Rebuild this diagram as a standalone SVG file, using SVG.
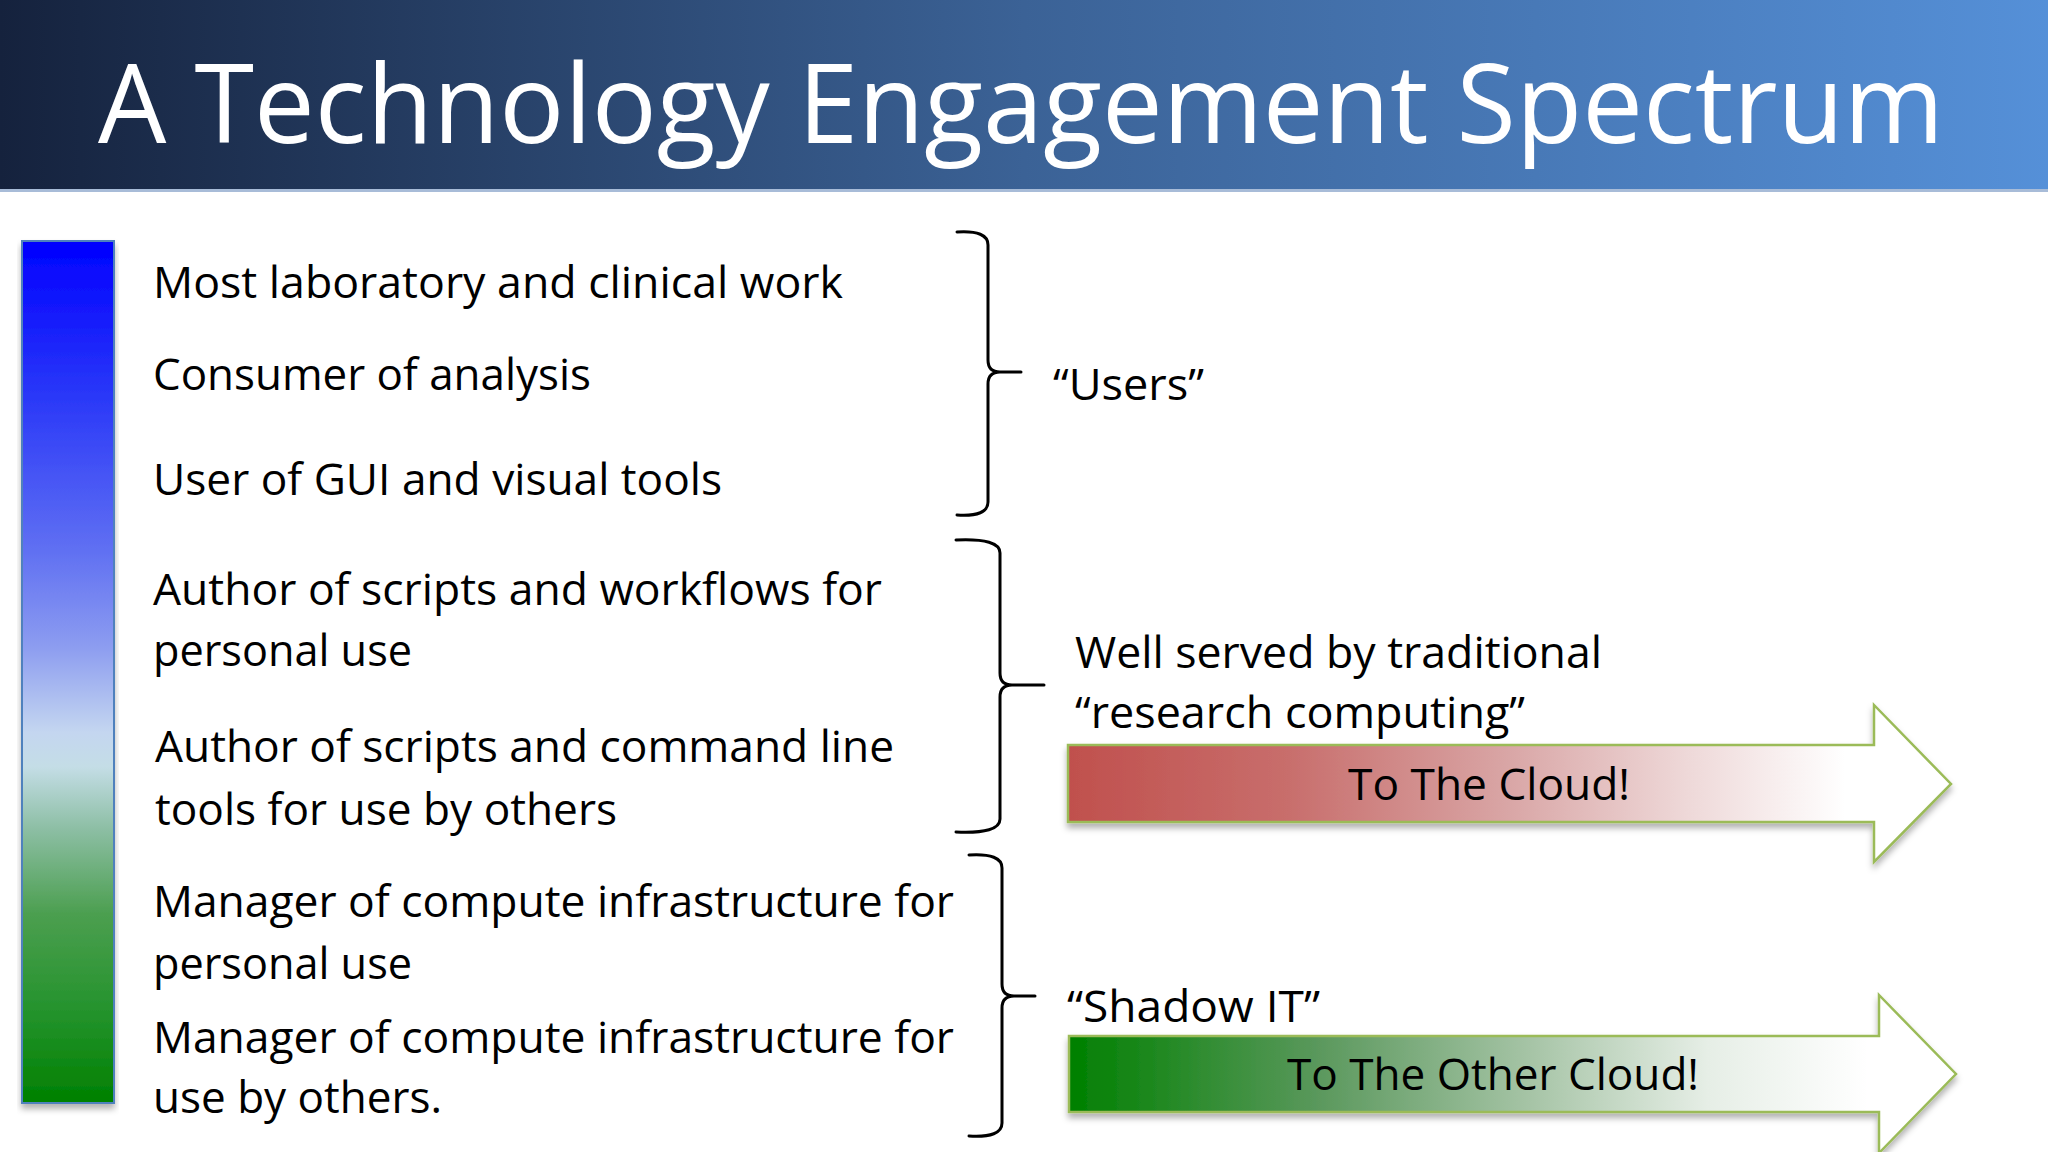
<svg xmlns="http://www.w3.org/2000/svg" width="2048" height="1152" viewBox="0 0 2048 1152">
  <defs>
    <linearGradient id="gTitle" x1="0" y1="0" x2="1" y2="0">
      <stop offset="0" stop-color="#15223d"/>
      <stop offset="0.5" stop-color="#3b6296"/>
      <stop offset="1" stop-color="#5590d8"/>
    </linearGradient>
    <linearGradient id="gBar" x1="0" y1="0" x2="0" y2="1">
      <stop offset="0" stop-color="#0000ff"/>
      <stop offset="0.18" stop-color="#2a38f8"/>
      <stop offset="0.36" stop-color="#6070f2"/>
      <stop offset="0.47" stop-color="#8c9cf0"/>
      <stop offset="0.57" stop-color="#c4d6f0"/>
      <stop offset="0.61" stop-color="#c4dde6"/>
      <stop offset="0.68" stop-color="#8ebfa6"/>
      <stop offset="0.78" stop-color="#4c9f50"/>
      <stop offset="0.9" stop-color="#22922a"/>
      <stop offset="1" stop-color="#008000"/>
    </linearGradient>
    <linearGradient id="gRed" gradientUnits="userSpaceOnUse" x1="1068" y1="0" x2="1951" y2="0">
      <stop offset="0" stop-color="#c0504d"/>
      <stop offset="0.25" stop-color="#c86e6c"/>
      <stop offset="0.5" stop-color="#d9a6a6"/>
      <stop offset="0.7" stop-color="#eed8d8"/>
      <stop offset="0.88" stop-color="#ffffff"/>
      <stop offset="1" stop-color="#ffffff"/>
    </linearGradient>
    <linearGradient id="gGreen" gradientUnits="userSpaceOnUse" x1="1069" y1="0" x2="1956" y2="0">
      <stop offset="0" stop-color="#008000"/>
      <stop offset="0.28" stop-color="#5a985c"/>
      <stop offset="0.52" stop-color="#a6c4a6"/>
      <stop offset="0.72" stop-color="#e6eee6"/>
      <stop offset="0.9" stop-color="#ffffff"/>
      <stop offset="1" stop-color="#ffffff"/>
    </linearGradient>
    <filter id="shadow" x="-5%" y="-10%" width="110%" height="130%">
      <feDropShadow dx="0" dy="5" stdDeviation="3" flood-color="#000" flood-opacity="0.3"/>
    </filter>
  </defs>
  <style>
    text { font-family: "Open Sans", "Noto Sans", "Liberation Sans", sans-serif; fill: #000; }
    .title { font-size: 110px; fill: #fff; }
    .item { font-size: 44px; }
    .label { font-size: 44px; }
    .arrowtxt { font-size: 44px; }
    .brace { fill: none; stroke: #000; stroke-width: 3; stroke-linecap: round; stroke-linejoin: round; }
    .arrow { stroke: #9bbb59; stroke-width: 2.5; filter: url(#shadow); }
  </style>

  <g id="title-band">
    <rect x="0" y="0" width="2048" height="192" fill="url(#gTitle)"/>
    <rect x="0" y="189" width="2048" height="3" fill="#a8bcd8"/>
    <text class="title" x="98" y="143" textLength="1846" lengthAdjust="spacingAndGlyphs">A Technology Engagement Spectrum</text>
  </g>

  <g id="spectrum-bar">
    <rect x="22" y="241" width="92" height="862" fill="url(#gBar)" stroke="#4f81bd" stroke-width="2" filter="url(#shadow)"/>
  </g>

  <g id="item-1"><text class="item" x="153" y="298" textLength="690" lengthAdjust="spacingAndGlyphs">Most laboratory and clinical work</text></g>
  <g id="item-2"><text class="item" x="153" y="390" textLength="438" lengthAdjust="spacingAndGlyphs">Consumer of analysis</text></g>
  <g id="item-3"><text class="item" x="153" y="495" textLength="569" lengthAdjust="spacingAndGlyphs">User of GUI and visual tools</text></g>
  <g id="item-4">
    <text class="item" x="153" y="605" textLength="729" lengthAdjust="spacingAndGlyphs">Author of scripts and workflows for</text>
    <text class="item" x="153" y="666" textLength="259" lengthAdjust="spacingAndGlyphs">personal use</text>
  </g>
  <g id="item-5">
    <text class="item" x="155" y="762" textLength="739" lengthAdjust="spacingAndGlyphs">Author of scripts and command line</text>
    <text class="item" x="155" y="825" textLength="462" lengthAdjust="spacingAndGlyphs">tools for use by others</text>
  </g>
  <g id="item-6">
    <text class="item" x="153" y="917" textLength="801" lengthAdjust="spacingAndGlyphs">Manager of compute infrastructure for</text>
    <text class="item" x="153" y="979" textLength="259" lengthAdjust="spacingAndGlyphs">personal use</text>
  </g>
  <g id="item-7">
    <text class="item" x="153" y="1053" textLength="801" lengthAdjust="spacingAndGlyphs">Manager of compute infrastructure for</text>
    <text class="item" x="153" y="1113" textLength="289" lengthAdjust="spacingAndGlyphs">use by others.</text>
  </g>

  <g id="connectors">
    <path class="brace" d="M957,232 Q988,230 988,245 L988,360 Q988,372 1000,372 L1021,372 M1000,372 Q988,372 988,384 L988,502 Q988,517 957,515"/>
    <path class="brace" d="M956,540 Q1000,538 1000,553 L1000,673 Q1000,685 1012,685 L1044,685 M1012,685 Q1000,685 1000,697 L1000,819 Q1000,834 956,832"/>
    <path class="brace" d="M969,855 Q1002,853 1002,868 L1002,984 Q1002,996 1014,996 L1035,996 M1014,996 Q1002,996 1002,1008 L1002,1123 Q1002,1138 969,1136"/>
  </g>

  <g id="label-users">
    <text class="label" x="1053" y="400" textLength="151" lengthAdjust="spacingAndGlyphs">“Users”</text>
  </g>
  <g id="label-research">
    <text class="label" x="1075" y="668" font-size="42" textLength="527" lengthAdjust="spacingAndGlyphs">Well served by traditional</text>
    <text class="label" x="1075" y="728" font-size="42" textLength="450" lengthAdjust="spacingAndGlyphs">“research computing”</text>
  </g>
  <g id="label-shadow">
    <text class="label" x="1067" y="1022" font-size="43" textLength="253" lengthAdjust="spacingAndGlyphs">“Shadow IT”</text>
  </g>

  <g id="arrow-cloud">
    <path class="arrow" fill="url(#gRed)" d="M1068,745 L1874,745 L1874,705 L1951,784 L1874,862 L1874,822 L1068,822 Z"/>
    <text class="arrowtxt" x="1348" y="800" textLength="282" lengthAdjust="spacingAndGlyphs">To The Cloud!</text>
  </g>
  <g id="arrow-other-cloud">
    <path class="arrow" fill="url(#gGreen)" d="M1069,1036 L1879,1036 L1879,995 L1956,1074 L1879,1153 L1879,1112 L1069,1112 Z"/>
    <text class="arrowtxt" x="1287" y="1090" textLength="412" lengthAdjust="spacingAndGlyphs">To The Other Cloud!</text>
  </g>
</svg>
